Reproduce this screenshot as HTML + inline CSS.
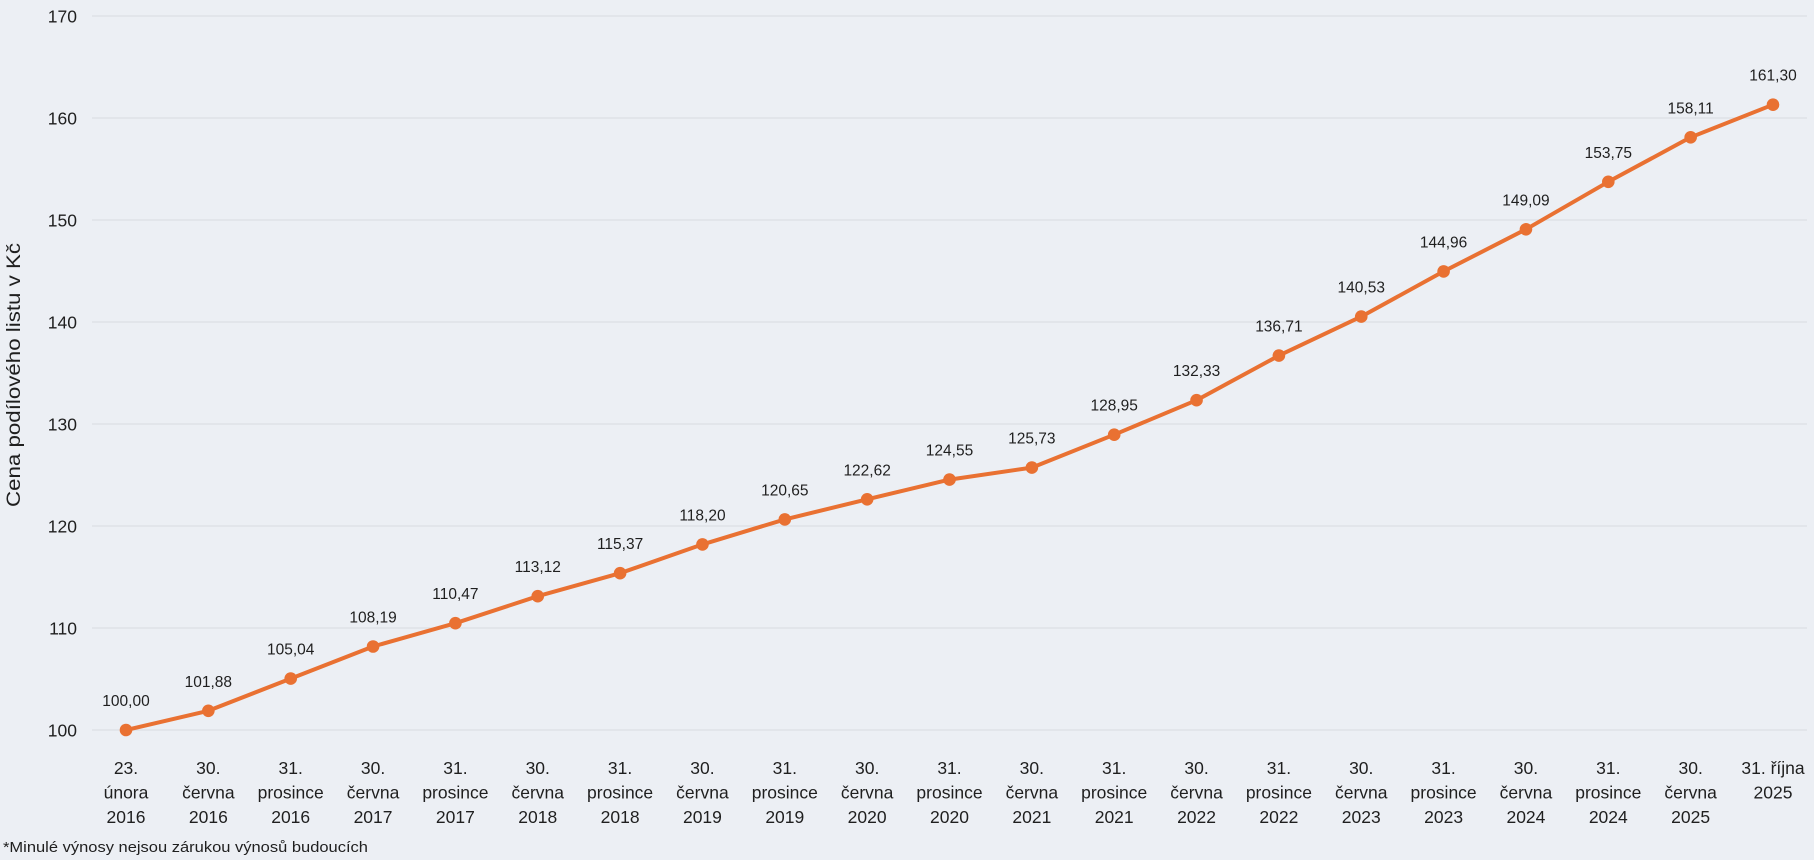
<!DOCTYPE html>
<html>
<head>
<meta charset="utf-8">
<style>
html,body{margin:0;padding:0;background:#ECEFF4;}
svg{display:block;}
text{font-family:"Liberation Sans",Arial,sans-serif;fill:#1f1f1f;}
.yt{font-size:17.5px;text-anchor:end;}
.dl{font-size:15.5px;text-anchor:middle;}
.cl{font-size:17.5px;text-anchor:middle;}
</style>
</head>
<body>
<svg width="1814" height="860" viewBox="0 0 1814 860" xmlns="http://www.w3.org/2000/svg">
<rect x="0" y="0" width="1814" height="860" fill="#ECEFF4"/>
<g stroke="#DCDFE4" stroke-width="1.2">
<line x1="92" y1="16" x2="1807" y2="16"/>
<line x1="92" y1="118" x2="1807" y2="118"/>
<line x1="92" y1="220" x2="1807" y2="220"/>
<line x1="92" y1="322" x2="1807" y2="322"/>
<line x1="92" y1="424" x2="1807" y2="424"/>
<line x1="92" y1="526" x2="1807" y2="526"/>
<line x1="92" y1="628" x2="1807" y2="628"/>
<line x1="92" y1="730" x2="1807" y2="730"/>
</g>
<g class="yt">
<text class="yt" x="77" y="22.5">170</text>
<text class="yt" x="77" y="124.5">160</text>
<text class="yt" x="77" y="226.5">150</text>
<text class="yt" x="77" y="328.5">140</text>
<text class="yt" x="77" y="430.5">130</text>
<text class="yt" x="77" y="532.5">120</text>
<text class="yt" x="77" y="634.5">110</text>
<text class="yt" x="77" y="736.5">100</text>
</g>
<text x="0" y="0" transform="translate(20,507) rotate(-90)" font-size="19" textLength="264" lengthAdjust="spacingAndGlyphs">Cena podílového listu v Kč</text>

<polyline fill="none" stroke="#E97132" stroke-width="4" stroke-linejoin="round" stroke-linecap="round"
points="126,730 208.35,710.8 290.7,678.6 373.05,646.5 455.4,623.2 537.75,596.2 620.1,573.2 702.45,544.4 784.8,519.4 867.15,499.3 949.5,479.6 1031.85,467.6 1114.2,434.7 1196.55,400.2 1278.9,355.6 1361.25,316.6 1443.6,271.4 1525.95,229.3 1608.3,181.8 1690.65,137.3 1773,104.7"/>
<g fill="#E97132">
<circle cx="126" cy="730" r="6.3"/>
<circle cx="208.35" cy="710.8" r="6.3"/>
<circle cx="290.7" cy="678.6" r="6.3"/>
<circle cx="373.05" cy="646.5" r="6.3"/>
<circle cx="455.4" cy="623.2" r="6.3"/>
<circle cx="537.75" cy="596.2" r="6.3"/>
<circle cx="620.1" cy="573.2" r="6.3"/>
<circle cx="702.45" cy="544.4" r="6.3"/>
<circle cx="784.8" cy="519.4" r="6.3"/>
<circle cx="867.15" cy="499.3" r="6.3"/>
<circle cx="949.5" cy="479.6" r="6.3"/>
<circle cx="1031.85" cy="467.6" r="6.3"/>
<circle cx="1114.2" cy="434.7" r="6.3"/>
<circle cx="1196.55" cy="400.2" r="6.3"/>
<circle cx="1278.9" cy="355.6" r="6.3"/>
<circle cx="1361.25" cy="316.6" r="6.3"/>
<circle cx="1443.6" cy="271.4" r="6.3"/>
<circle cx="1525.95" cy="229.3" r="6.3"/>
<circle cx="1608.3" cy="181.8" r="6.3"/>
<circle cx="1690.65" cy="137.3" r="6.3"/>
<circle cx="1773" cy="104.7" r="6.3"/>
</g>

<g>
<text class="dl" x="126" y="706">100,00</text>
<text class="dl" x="208.35" y="686.8">101,88</text>
<text class="dl" x="290.7" y="654.6">105,04</text>
<text class="dl" x="373.05" y="622.5">108,19</text>
<text class="dl" x="455.4" y="599.2">110,47</text>
<text class="dl" x="537.75" y="572.2">113,12</text>
<text class="dl" x="620.1" y="549.2">115,37</text>
<text class="dl" x="702.45" y="520.4">118,20</text>
<text class="dl" x="784.8" y="495.4">120,65</text>
<text class="dl" x="867.15" y="475.3">122,62</text>
<text class="dl" x="949.5" y="455.6">124,55</text>
<text class="dl" x="1031.85" y="443.6">125,73</text>
<text class="dl" x="1114.2" y="410.7">128,95</text>
<text class="dl" x="1196.55" y="376.2">132,33</text>
<text class="dl" x="1278.9" y="331.6">136,71</text>
<text class="dl" x="1361.25" y="292.6">140,53</text>
<text class="dl" x="1443.6" y="247.4">144,96</text>
<text class="dl" x="1525.95" y="205.3">149,09</text>
<text class="dl" x="1608.3" y="157.8">153,75</text>
<text class="dl" x="1690.65" y="113.3">158,11</text>
<text class="dl" x="1773" y="80.7">161,30</text>
</g>

<g>
<text class="cl" x="126" y="774">23.</text><text class="cl" x="126" y="798.5">února</text><text class="cl" x="126" y="823">2016</text>
<text class="cl" x="208.35" y="774">30.</text><text class="cl" x="208.35" y="798.5">června</text><text class="cl" x="208.35" y="823">2016</text>
<text class="cl" x="290.7" y="774">31.</text><text class="cl" x="290.7" y="798.5">prosince</text><text class="cl" x="290.7" y="823">2016</text>
<text class="cl" x="373.05" y="774">30.</text><text class="cl" x="373.05" y="798.5">června</text><text class="cl" x="373.05" y="823">2017</text>
<text class="cl" x="455.4" y="774">31.</text><text class="cl" x="455.4" y="798.5">prosince</text><text class="cl" x="455.4" y="823">2017</text>
<text class="cl" x="537.75" y="774">30.</text><text class="cl" x="537.75" y="798.5">června</text><text class="cl" x="537.75" y="823">2018</text>
<text class="cl" x="620.1" y="774">31.</text><text class="cl" x="620.1" y="798.5">prosince</text><text class="cl" x="620.1" y="823">2018</text>
<text class="cl" x="702.45" y="774">30.</text><text class="cl" x="702.45" y="798.5">června</text><text class="cl" x="702.45" y="823">2019</text>
<text class="cl" x="784.8" y="774">31.</text><text class="cl" x="784.8" y="798.5">prosince</text><text class="cl" x="784.8" y="823">2019</text>
<text class="cl" x="867.15" y="774">30.</text><text class="cl" x="867.15" y="798.5">června</text><text class="cl" x="867.15" y="823">2020</text>
<text class="cl" x="949.5" y="774">31.</text><text class="cl" x="949.5" y="798.5">prosince</text><text class="cl" x="949.5" y="823">2020</text>
<text class="cl" x="1031.85" y="774">30.</text><text class="cl" x="1031.85" y="798.5">června</text><text class="cl" x="1031.85" y="823">2021</text>
<text class="cl" x="1114.2" y="774">31.</text><text class="cl" x="1114.2" y="798.5">prosince</text><text class="cl" x="1114.2" y="823">2021</text>
<text class="cl" x="1196.55" y="774">30.</text><text class="cl" x="1196.55" y="798.5">června</text><text class="cl" x="1196.55" y="823">2022</text>
<text class="cl" x="1278.9" y="774">31.</text><text class="cl" x="1278.9" y="798.5">prosince</text><text class="cl" x="1278.9" y="823">2022</text>
<text class="cl" x="1361.25" y="774">30.</text><text class="cl" x="1361.25" y="798.5">června</text><text class="cl" x="1361.25" y="823">2023</text>
<text class="cl" x="1443.6" y="774">31.</text><text class="cl" x="1443.6" y="798.5">prosince</text><text class="cl" x="1443.6" y="823">2023</text>
<text class="cl" x="1525.95" y="774">30.</text><text class="cl" x="1525.95" y="798.5">června</text><text class="cl" x="1525.95" y="823">2024</text>
<text class="cl" x="1608.3" y="774">31.</text><text class="cl" x="1608.3" y="798.5">prosince</text><text class="cl" x="1608.3" y="823">2024</text>
<text class="cl" x="1690.65" y="774">30.</text><text class="cl" x="1690.65" y="798.5">června</text><text class="cl" x="1690.65" y="823">2025</text>
<text class="cl" x="1773" y="774">31. října</text><text class="cl" x="1773" y="798.5">2025</text>
</g>

<text x="3" y="852" font-size="15" textLength="365" lengthAdjust="spacingAndGlyphs">*Minulé výnosy nejsou zárukou výnosů budoucích</text>
</svg>
</body>
</html>
